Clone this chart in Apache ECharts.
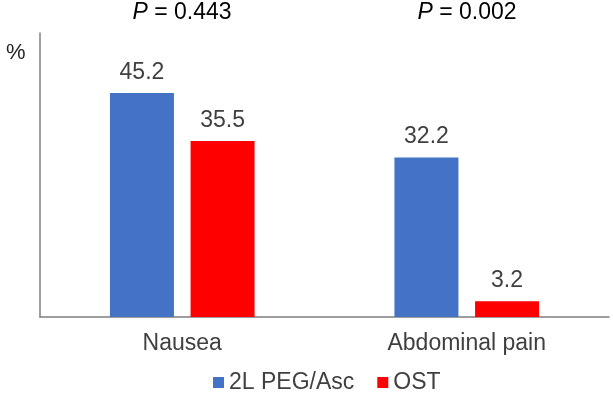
<!DOCTYPE html>
<html><head><meta charset="utf-8">
<script src="https://cdn.jsdelivr.net/npm/echarts@6/dist/echarts.min.js"></script>
<style>html,body{margin:0;padding:0;background:#fff}#c{width:613px;height:400px}</style>
</head><body><div id="c"></div>
<script>
const categories = ['Nausea', 'Abdominal pain'];
const pegAsc = [45.2, 32.2];
const ost = [35.5, 3.2];
const pValues = ['0.443', '0.002'];
const seriesNames = ['2L PEG/Asc', 'OST'];

const chart = echarts.init(document.getElementById('c'));
const font = 'Liberation Sans, Arial, sans-serif';
const centers = [182, 467];
chart.setOption({
  animation: false,
  textStyle: { fontFamily: font },
  title: pValues.map((p, i) => ({
    text: '{i|P} = ' + p,
    left: centers[i], top: 1, padding: 0,
    textAlign: 'center',
    textStyle: {
      rich: {
        i: { fontStyle: 'italic', fontSize: 23, color: '#000', fontFamily: font }
      },
      fontSize: 23, fontWeight: 'normal', color: '#000', fontFamily: font
    }
  })).concat([{
    text: '%', left: 6, top: 42, padding: 0,
    textStyle: { fontSize: 22, fontWeight: 'normal', color: '#222', fontFamily: font }
  }]),
  grid: { left: 40, right: 4, top: 33, bottom: 83 },
  legend: {
    top: 366, left: 208,
    itemWidth: 11, itemHeight: 11, itemGap: 23,
    icon: 'rect',
    textStyle: { fontSize: 23, color: '#404040', fontFamily: font },
    data: seriesNames
  },
  xAxis: {
    type: 'category', data: categories,
    axisTick: { show: false },
    axisLine: { lineStyle: { color: '#7f7f7f', width: 1.5 } },
    axisLabel: { fontSize: 23, color: '#404040', margin: 15, fontFamily: font }
  },
  yAxis: {
    type: 'value', min: 0, max: 57.3,
    splitLine: { show: false },
    axisLabel: { show: false },
    axisTick: { show: false },
    axisLine: { show: true, lineStyle: { color: '#7f7f7f', width: 1.5 } }
  },
  series: [
    { name: seriesNames[0], type: 'bar', data: pegAsc, barWidth: 64, barGap: '26%',
      itemStyle: { color: '#4472c4' },
      label: { show: true, position: 'top', distance: 9, fontSize: 23, color: '#404040', fontFamily: font, formatter: p => p.value.toFixed(1) } },
    { name: seriesNames[1], type: 'bar', data: ost, barWidth: 64,
      itemStyle: { color: '#ff0000' },
      label: { show: true, position: 'top', distance: 9, fontSize: 23, color: '#404040', fontFamily: font, formatter: p => p.value.toFixed(1) } }
  ]
});
</script></body></html>
